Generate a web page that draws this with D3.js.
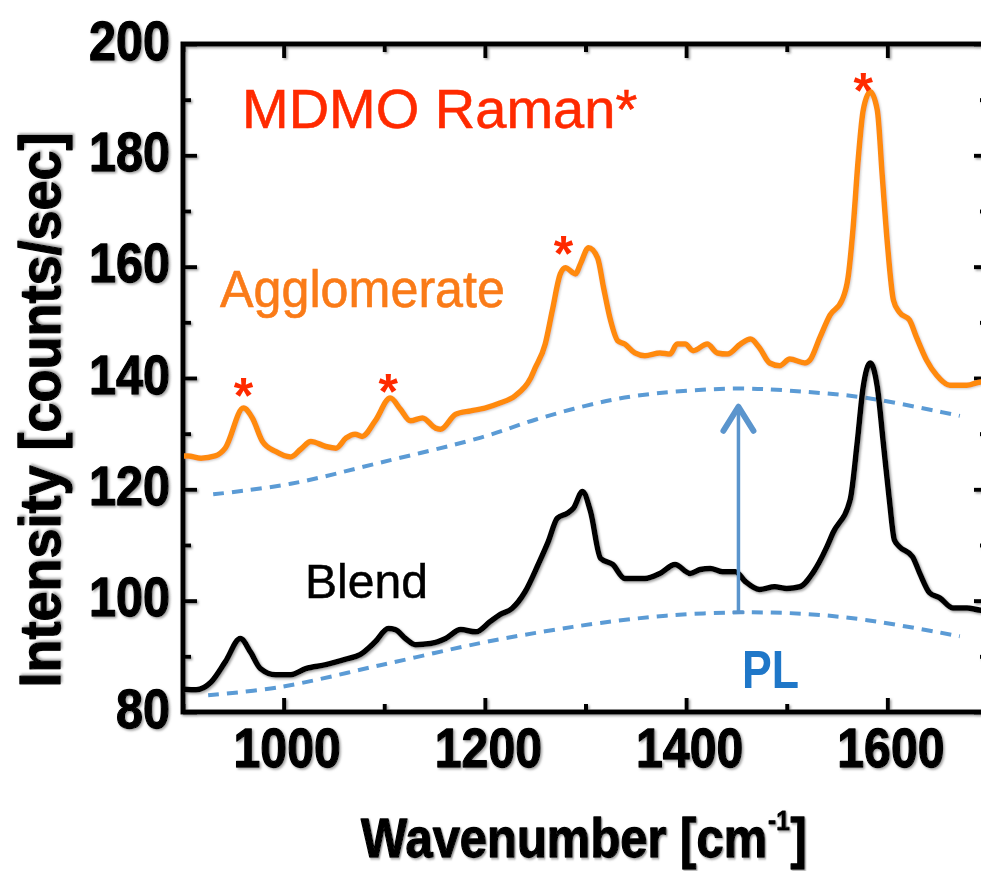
<!DOCTYPE html>
<html>
<head>
<meta charset="utf-8">
<script src="https://cdn.jsdelivr.net/npm/d3@7"></script>
<style>
  html, body { margin: 0; padding: 0; background: #fff; }
  svg { display: block; }
</style>
</head>
<body>
<svg id="chart" width="981" height="871"></svg>
<script>
// Raman spectra of the MDMO blend film and an agglomerate, with PL backgrounds
const agglomerateWn = [901, 905, 918, 932, 942, 960, 969, 979, 992, 1007, 1017, 1027, 1042, 1052, 1062, 1071, 1078, 1091, 1106, 1116, 1126, 1138, 1151, 1156, 1171, 1186, 1200, 1215, 1230, 1245, 1250, 1260, 1267, 1275, 1280, 1290, 1295, 1303, 1312, 1318, 1325, 1332, 1339, 1349, 1359, 1374, 1384, 1391, 1399, 1407, 1421, 1431, 1441, 1454, 1464, 1473, 1483, 1493, 1503, 1518, 1523, 1533, 1543, 1555, 1561, 1566, 1571, 1576, 1583, 1590, 1595, 1600, 1606, 1612, 1622, 1629, 1639, 1649, 1662, 1679, 1693, 1700];
const agglomerateInt = [126.0, 126.0, 125.6, 126.0, 127.4, 134.6, 132.8, 128.6, 126.8, 125.8, 127.2, 128.6, 127.7, 127.4, 129.2, 129.9, 129.5, 132.3, 136.4, 134.4, 132.3, 132.8, 131.0, 130.8, 133.5, 134.1, 134.6, 135.5, 136.8, 139.8, 141.8, 146.1, 152.1, 158.7, 159.8, 158.7, 160.5, 163.4, 161.6, 156.2, 150.3, 146.7, 146.1, 144.5, 144.0, 144.5, 144.3, 146.1, 146.1, 144.9, 146.1, 144.5, 144.3, 146.1, 147.0, 145.4, 142.7, 142.2, 143.4, 142.7, 143.2, 147.3, 151.3, 154.0, 158.1, 167.1, 179.2, 188.1, 191.4, 188.1, 176.1, 164.2, 154.0, 151.8, 150.4, 147.3, 143.2, 140.5, 138.7, 138.7, 139.3, 139.0];

const blendWn = [901, 913, 928, 942, 957, 967, 977, 992, 1007, 1022, 1042, 1062, 1076, 1091, 1104, 1111, 1121, 1131, 1146, 1161, 1176, 1191, 1205, 1215, 1227, 1240, 1253, 1263, 1272, 1282, 1288, 1297, 1305, 1315, 1327, 1339, 1359, 1374, 1389, 1404, 1414, 1424, 1436, 1449, 1459, 1473, 1488, 1500, 1513, 1526, 1540, 1546, 1563, 1570, 1576, 1583, 1590, 1596, 1602, 1607, 1612, 1625, 1632, 1642, 1652, 1665, 1679, 1693, 1700];
const blendInt = [84.1, 84.0, 85.4, 89.0, 93.2, 90.8, 87.8, 86.7, 86.7, 87.8, 88.5, 89.5, 90.3, 92.6, 95.0, 94.8, 93.2, 92.1, 92.3, 93.2, 94.8, 94.4, 96.2, 97.5, 98.6, 101.6, 106.5, 110.6, 114.8, 115.7, 116.6, 119.6, 116.0, 107.6, 106.5, 104.0, 104.0, 104.9, 106.5, 104.9, 105.6, 105.8, 105.2, 105.2, 103.4, 102.0, 102.5, 102.2, 102.5, 105.0, 109.7, 112.2, 118.1, 128.3, 138.4, 142.7, 138.4, 128.3, 118.1, 110.9, 109.7, 107.9, 105.0, 101.4, 100.5, 98.7, 98.7, 98.3, 98.3];

// Photoluminescence backgrounds (dashed)
const plUpperWn = [930, 1007, 1096, 1196, 1250, 1300, 1350, 1447, 1520, 1580, 1672];
const plUpperInt = [119.1, 121.0, 124.8, 129.3, 132.5, 135.0, 136.8, 138.1, 137.5, 136.4, 133.2];
const plLowerWn = [925, 997, 1096, 1196, 1260, 1315, 1380, 1454, 1520, 1580, 1672];
const plLowerInt = [83.0, 84.5, 88.4, 92.4, 94.5, 96.0, 97.3, 97.9, 97.6, 96.5, 93.6];

// PL rise arrow: wavenumber, start intensity, end intensity
const plArrowWn = 1452;
const plArrowFrom = 97.9;
const plArrowTo = 135.2;

// MDMO Raman bands marked with an asterisk
const markWn = [960, 1104, 1278, 1576];
const markInt = [139.1, 139.8, 164.7, 193.9];

const xMajorTicks = [1000, 1200, 1400, 1600];
const xMinorTicks = [900, 1100, 1300, 1500, 1700];
const yMajorTicks = [80, 100, 120, 140, 160, 180, 200];
const yMinorTicks = [90, 110, 130, 150, 170, 190];

const svg = d3.select("#chart");
const plotLeft = 183, plotRight = 988, plotTop = 44, plotBottom = 712;

const x = d3.scaleLinear().domain([900, 1700]).range([plotLeft, plotRight]);
const y = d3.scaleLinear().domain([80, 200]).range([plotBottom, plotTop]);

const defs = svg.append("defs");
const sh = defs.append("filter").attr("id", "shade")
  .attr("x", "-5%").attr("y", "-5%").attr("width", "110%").attr("height", "110%");
sh.append("feDropShadow").attr("dx", 1.5).attr("dy", 1.5).attr("stdDeviation", 0.9)
  .attr("flood-color", "#777").attr("flood-opacity", 0.7);
const shL = defs.append("filter").attr("id", "shadeLight")
  .attr("x", "-5%").attr("y", "-5%").attr("width", "110%").attr("height", "110%");
shL.append("feDropShadow").attr("dx", 1).attr("dy", 1).attr("stdDeviation", 0.8)
  .attr("flood-color", "#999").attr("flood-opacity", 0.5);

const tickFont = "'Liberation Sans', Arial, sans-serif";

// ---- axes (ticks point into the plot) ----
const axes = svg.append("g").attr("filter", "url(#shade)");

function styleAxis(g, width) {
  g.select(".domain").remove();
  g.selectAll(".tick line").attr("stroke", "#000").attr("stroke-width", width);
}

function heavyText(sel) {
  sel.attr("font-family", tickFont).attr("font-weight", "bold")
    .attr("fill", "#000").attr("stroke", "#000").attr("stroke-width", 1.3)
    .attr("stroke-linejoin", "round");
}

axes.append("g").attr("transform", `translate(0,${plotBottom})`)
  .call(d3.axisBottom(x).tickValues(xMajorTicks).tickFormat(d3.format("d"))
    .tickSizeInner(-14).tickSizeOuter(0).tickPadding(15))
  .call(g => {
    styleAxis(g, 4);
    g.selectAll(".tick text").call(heavyText).attr("font-size", 56)
      .attr("dy", "0.71em").attr("dx", 3)
      .attr("textLength", d => String(d).length * 26.8).attr("lengthAdjust", "spacingAndGlyphs");
  });
axes.append("g").attr("transform", `translate(0,${plotBottom})`)
  .call(d3.axisBottom(x).tickValues(xMinorTicks).tickSizeInner(-8).tickSizeOuter(0).tickFormat(""))
  .call(g => styleAxis(g, 4));

axes.append("g").attr("transform", `translate(0,${plotTop})`)
  .call(d3.axisTop(x).tickValues(xMajorTicks).tickSizeInner(-14).tickSizeOuter(0).tickFormat(""))
  .call(g => styleAxis(g, 4));
axes.append("g").attr("transform", `translate(0,${plotTop})`)
  .call(d3.axisTop(x).tickValues(xMinorTicks).tickSizeInner(-8).tickSizeOuter(0).tickFormat(""))
  .call(g => styleAxis(g, 4));

axes.append("g").attr("transform", `translate(${plotLeft},0)`)
  .call(d3.axisLeft(y).tickValues(yMajorTicks).tickFormat(d3.format("d"))
    .tickSizeInner(-14).tickSizeOuter(0).tickPadding(13))
  .call(g => {
    styleAxis(g, 4);
    g.selectAll(".tick text").call(heavyText).attr("font-size", 56)
      .attr("dy", "0.27em")
      .attr("textLength", d => String(d).length * 27).attr("lengthAdjust", "spacingAndGlyphs");
  });
axes.append("g").attr("transform", `translate(${plotLeft},0)`)
  .call(d3.axisLeft(y).tickValues(yMinorTicks).tickSizeInner(-8).tickSizeOuter(0).tickFormat(""))
  .call(g => styleAxis(g, 4));

axes.append("g").attr("transform", `translate(${plotRight},0)`)
  .call(d3.axisRight(y).tickValues(yMajorTicks).tickSizeInner(-14).tickSizeOuter(0).tickFormat(""))
  .call(g => styleAxis(g, 4));
axes.append("g").attr("transform", `translate(${plotRight},0)`)
  .call(d3.axisRight(y).tickValues(yMinorTicks).tickSizeInner(-8).tickSizeOuter(0).tickFormat(""))
  .call(g => styleAxis(g, 4));

axes.append("rect")
  .attr("x", plotLeft).attr("y", plotTop)
  .attr("width", plotRight - plotLeft).attr("height", plotBottom - plotTop)
  .attr("fill", "none").attr("stroke", "#000").attr("stroke-width", 5);

// ---- axis titles ----
const xt = svg.append("text")
  .attr("transform", "translate(584,857) scale(0.874,1)")
  .attr("text-anchor", "middle")
  .call(heavyText).attr("font-size", 56)
  .attr("filter", "url(#shade)");
xt.append("tspan").text("Wavenumber [cm");
xt.append("tspan").attr("font-size", 28).attr("stroke-width", 0.8).attr("dx", 1).attr("dy", -27).text("-1");
xt.append("tspan").attr("dx", 1).attr("dy", 27).text("]");

svg.append("text")
  .attr("transform", "translate(60,410) rotate(-90)")
  .attr("text-anchor", "middle")
  .call(heavyText).attr("font-size", 58)
  .attr("filter", "url(#shade)")
  .attr("textLength", 555).attr("lengthAdjust", "spacingAndGlyphs")
  .text("Intensity [counts/sec]");

// ---- PL backgrounds ----
const plLine = (wn, iv) => d3.line()
  .x((d, i) => x(wn[i])).y((d, i) => y(iv[i]))
  .curve(d3.curveCatmullRom.alpha(0.5))(wn);

const plColor = "#5b9bd5";
[[plUpperWn, plUpperInt], [plLowerWn, plLowerInt]].forEach(([wn, iv]) => {
  svg.append("path")
    .attr("d", plLine(wn, iv))
    .attr("fill", "none").attr("stroke", plColor)
    .attr("stroke-width", 4).attr("stroke-dasharray", "11 8");
});

// ---- spectra ----
const specLine = (wn, iv) => d3.line()
  .x((d, i) => x(wn[i])).y((d, i) => y(iv[i]))
  .curve(d3.curveMonotoneX)(wn);

svg.append("path")
  .attr("d", specLine(blendWn, blendInt))
  .attr("fill", "none").attr("stroke", "#000").attr("stroke-width", 5.5)
  .attr("stroke-linejoin", "round").attr("filter", "url(#shade)");

svg.append("path")
  .attr("d", specLine(agglomerateWn, agglomerateInt))
  .attr("fill", "none").attr("stroke", "#ff8a0c").attr("stroke-width", 5.5)
  .attr("stroke-linejoin", "round").attr("filter", "url(#shadeLight)");

// ---- PL rise arrow ----
const arrowColor = "#5b95cd";
const ax = x(plArrowWn), ay0 = y(plArrowFrom), ay1 = y(plArrowTo);
svg.append("line")
  .attr("x1", ax).attr("x2", ax).attr("y1", ay0).attr("y2", ay1 + 2)
  .attr("stroke", arrowColor).attr("stroke-width", 3.5);
svg.append("line")
  .attr("x1", ax - 6).attr("x2", ax + 6).attr("y1", ay0).attr("y2", ay0)
  .attr("stroke", arrowColor).attr("stroke-width", 3);
svg.append("path")
  .attr("d", `M${ax - 15},${ay1 + 26} L${ax},${ay1 + 2} L${ax + 15},${ay1 + 26}`)
  .attr("fill", "none").attr("stroke", arrowColor).attr("stroke-width", 6)
  .attr("stroke-linecap", "round").attr("stroke-linejoin", "round");

// ---- asterisk band markers ----
svg.selectAll("text.mark")
  .data(markWn)
  .join("text")
  .attr("class", "mark")
  .attr("x", d => x(d)).attr("y", (d, i) => y(markInt[i]) + 30)
  .attr("text-anchor", "middle")
  .attr("font-family", tickFont).attr("font-weight", "bold").attr("font-size", 50)
  .attr("fill", "#ff2a00")
  .text("*");

// ---- labels ----
const labelFont = "'Liberation Sans', Arial, sans-serif";
svg.append("text")
  .attr("x", 242).attr("y", 128)
  .attr("font-family", labelFont).attr("font-size", 56)
  .attr("fill", "#ff2a00").attr("stroke", "#ff2a00").attr("stroke-width", 0.6)
  .text("MDMO Raman*");

svg.append("text")
  .attr("x", 220).attr("y", 307)
  .attr("font-family", labelFont).attr("font-size", 51)
  .attr("fill", "#fa7b18").attr("stroke", "#fa7b18").attr("stroke-width", 0.6)
  .attr("textLength", 285).attr("lengthAdjust", "spacingAndGlyphs")
  .text("Agglomerate");

svg.append("text")
  .attr("x", 305).attr("y", 598)
  .attr("font-family", labelFont).attr("font-size", 49)
  .attr("fill", "#000").attr("stroke", "#000").attr("stroke-width", 0.5)
  .attr("textLength", 123).attr("lengthAdjust", "spacingAndGlyphs")
  .text("Blend");

svg.append("text")
  .attr("x", 742).attr("y", 688)
  .attr("font-family", labelFont).attr("font-weight", "bold").attr("font-size", 54)
  .attr("fill", "#1f77c8")
  .attr("textLength", 57).attr("lengthAdjust", "spacingAndGlyphs")
  .text("PL");
</script>
</body>
</html>
